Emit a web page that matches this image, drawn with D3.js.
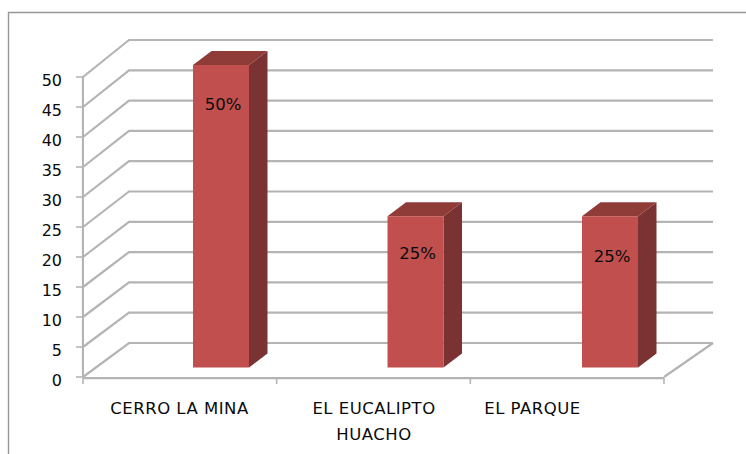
<!DOCTYPE html>
<html>
<head>
<meta charset="utf-8">
<script src="https://cdn.jsdelivr.net/npm/d3@7"></script>
<style>
  html, body { margin: 0; padding: 0; background: #fff; }
  text { font-family: "DejaVu Sans", sans-serif; fill: #0a0a0a; }
</style>
</head>
<body>
<div id="container"></div>
<script>
/* DATA */
const categories = ["CERRO LA MINA", "EL EUCALIPTO HUACHO", "EL PARQUE"];
const values = [50, 25, 25];
const barLabels = ["50%", "25%", "25%"];
const yTicks = [0, 5, 10, 15, 20, 25, 30, 35, 40, 45, 50];

/* CONSTANTS */
const width = 746, height = 454;
const barDepth = {x: 18.5, y: 14};
const gridColor = "#b4b4b4";

const svg = d3.select("#container")
  .append("svg")
  .attr("width", width)
  .attr("height", height)
  .style("display", "block");

// slight softness, the marks in the picture are not crisp
svg.append("defs").append("filter")
  .attr("id", "soft")
  .append("feGaussianBlur")
  .attr("stdDeviation", 0.45);

// SCALES
const xScale = d3.scaleBand().domain(categories).range([83, 664]);
const yScale = d3.scaleLinear().domain([0, 50]).range([377, 77]);
// back wall of the 3d box
const backY = d3.scaleLinear().domain([0, 50]).range([343, 40]);
// bars stand further back on the floor, so they get their own scales
const barBand = d3.scaleBand().domain(categories).range([193, 776.5]);
const barY = d3.scaleLinear().domain([0, 50]).range([367.5, 65]);
const barW = 56;

// chart frame
svg.append("path")
  .attr("d", "M8.5,454V12.5H746")
  .attr("fill", "none")
  .attr("stroke", "#969696")
  .attr("stroke-width", 1.4);

// gridlines, back wall and side wall
const grid = svg.append("g")
  .attr("fill", "none")
  .attr("stroke", gridColor)
  .attr("stroke-width", 2.2)
  .attr("filter", "url(#soft)");

grid.selectAll("path")
  .data(yTicks)
  .join("path")
  .attr("d", d => `M83,${yScale(d)}L129,${backY(d)}H713`);

// floor edge on the right
grid.append("path")
  .attr("d", `M664,377L713,${backY(0)}`);

// y axis
const yAxis = svg.append("g").attr("transform", "translate(83,0)");
const yMarks = yAxis.append("g")
  .attr("stroke", gridColor)
  .attr("filter", "url(#soft)");
yMarks.append("line")
  .attr("y1", yScale(50)).attr("y2", yScale(0))
  .attr("stroke-width", 2.2);
yMarks.selectAll("line.tick")
  .data(yTicks)
  .join("line")
  .attr("class", "tick")
  .attr("x1", -7).attr("x2", 0)
  .attr("y1", d => yScale(d)).attr("y2", d => yScale(d))
  .attr("stroke-width", 1.6);
yAxis.selectAll("text")
  .data(yTicks)
  .join("text")
  .attr("x", -21)
  .attr("y", d => yScale(d) + 3)
  .attr("dy", "0.36em")
  .attr("text-anchor", "end")
  .attr("font-size", 16)
  .text(d => d);

// x axis
const xMarks = svg.append("g")
  .attr("stroke", gridColor)
  .attr("filter", "url(#soft)");
xMarks.append("line")
  .attr("x1", 83).attr("x2", 664)
  .attr("y1", 378).attr("y2", 378)
  .attr("stroke-width", 2.4);
xMarks.selectAll("line.tick")
  .data([...categories.map(d => xScale(d)), 664])
  .join("line")
  .attr("class", "tick")
  .attr("x1", d => d).attr("x2", d => d)
  .attr("y1", 378).attr("y2", 384)
  .attr("stroke-width", 1.6);

// bars
const bars = svg.selectAll("g.bar")
  .data(categories.map((c, i) => ({c, v: values[i]})))
  .join("g")
  .attr("class", "bar")
  .attr("filter", "url(#soft)");

bars.append("path")
  .attr("fill", "#7a3230")
  .attr("d", d => {
    const r = barBand(d.c) + barW, t = barY(d.v), b = barY(0);
    return `M${r},${t}l${barDepth.x},${-barDepth.y}V${b - barDepth.y}L${r},${b}Z`;
  });

bars.append("path")
  .attr("fill", "#8f3a38")
  .attr("d", d => {
    const l = barBand(d.c), t = barY(d.v);
    return `M${l},${t}l${barDepth.x},${-barDepth.y}h${barW}l${-barDepth.x},${barDepth.y}Z`;
  });

bars.append("rect")
  .attr("fill", "#c0504d")
  .attr("x", d => barBand(d.c))
  .attr("y", d => barY(d.v))
  .attr("width", barW)
  .attr("height", d => barY(0) - barY(d.v));

// percentage labels, not quite at the same height on each bar
const labelDy = [45, 43, 46];
svg.selectAll("text.pct")
  .data(categories.map((c, i) => ({c, v: values[i], label: barLabels[i], dy: labelDy[i]})))
  .join("text")
  .attr("class", "pct")
  .attr("x", d => barBand(d.c) + 30)
  .attr("y", d => barY(d.v) + d.dy)
  .attr("text-anchor", "middle")
  .attr("font-size", 16.5)
  .text(d => d.label);

// category labels
const labelLines = [["CERRO LA MINA"], ["EL EUCALIPTO", "HUACHO"], ["EL PARQUE"]];
const labelX = [179.5, 374, 532.5];
categories.forEach((c, i) => {
  svg.append("text")
    .attr("y", 414)
    .attr("text-anchor", "middle")
    .attr("font-size", 16.5)
    .attr("letter-spacing", 0.5)
    .selectAll("tspan")
    .data(labelLines[i])
    .join("tspan")
    .attr("x", labelX[i])
    .attr("dy", (d, j) => j ? 26 : 0)
    .text(d => d);
});
</script>
</body>
</html>
